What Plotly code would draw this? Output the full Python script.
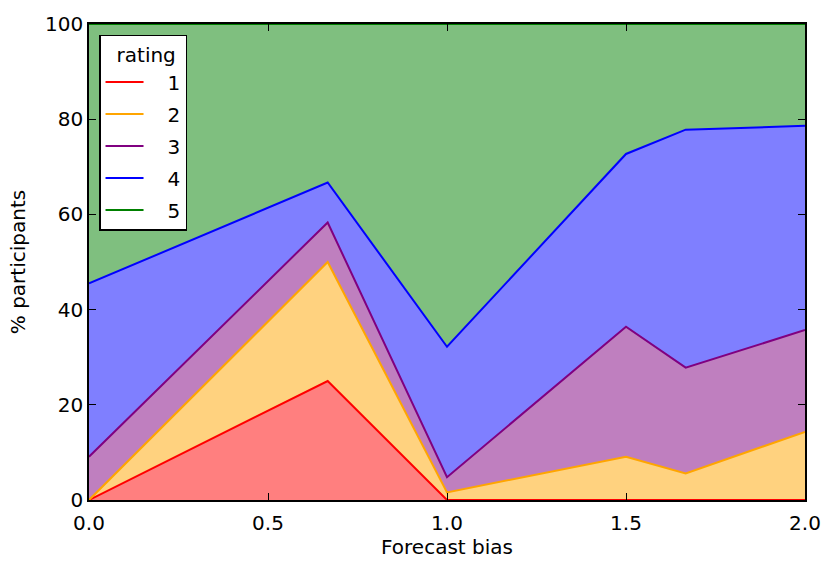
import plotly.graph_objects as go

x_bias = [0.0, 0.6667, 1.0, 1.5, 1.6667, 2.0]
ratings = ["1", "2", "3", "4", "5"]
r1 = [0.0, 25.0, 0.0, 0.0, 0.0, 0.0]
r2 = [0.0, 25.0, 1.6, 9.1, 5.6, 14.3]
r3 = [9.1, 8.3, 3.2, 27.3, 22.2, 21.4]
r4 = [36.4, 8.4, 27.4, 36.3, 50.0, 42.9]
r5 = [54.5, 33.3, 67.8, 27.3, 22.2, 21.4]
series = [r1, r2, r3, r4, r5]

line_colors = ["#ff0000", "#ffa500", "#800080", "#0000ff", "#008000"]
fill_colors = ["rgba(255,0,0,0.5)", "rgba(255,165,0,0.5)", "rgba(128,0,128,0.5)",
               "rgba(0,0,255,0.5)", "rgba(0,128,0,0.5)"]

fig = go.Figure()
for name, vals, lc, fc in zip(ratings, series, line_colors, fill_colors):
    fig.add_trace(go.Scatter(x=x_bias, y=vals, mode="lines", stackgroup="one",
                             line=dict(color=lc, width=2), fillcolor=fc,
                             showlegend=False, hoverinfo="skip"))
for name, lc in zip(ratings, line_colors):
    fig.add_trace(go.Scatter(x=[None], y=[None], mode="lines", name="   " + name,
                             legendgroup=name, line=dict(color=lc, width=2)))

axis_common = dict(showline=True, linecolor="black", linewidth=1.5, mirror="allticks",
                   ticks="inside", ticklen=7, tickcolor="black", showgrid=False,
                   zeroline=False, automargin=False,
                   tickfont=dict(size=20, color="black"))

fig.update_layout(
    width=824, height=561,
    margin=dict(l=89, r=19, t=24, b=61),
    paper_bgcolor="white", plot_bgcolor="white",
    font=dict(family="DejaVu Sans", color="black", size=20),
    xaxis=dict(range=[0, 2], tickvals=[0, 0.5, 1.0, 1.5, 2.0], tickformat=".1f",
               ticklabelstandoff=4,
               title=dict(text="Forecast bias", font=dict(size=20), standoff=2), **axis_common),
    yaxis=dict(range=[0, 100], tickvals=[0, 20, 40, 60, 80, 100],
               title=dict(text="% participants", font=dict(size=20), standoff=14), **axis_common),
    legend=dict(x=0.014, y=0.977, xanchor="left", yanchor="top",
                bgcolor="white", bordercolor="black", borderwidth=1.5,
                title=dict(text=" rating", font=dict(size=20), side="top center"),
                font=dict(size=20), traceorder="grouped", tracegroupgap=3,
                itemwidth=38),
)

fig.write_html("out.html")
